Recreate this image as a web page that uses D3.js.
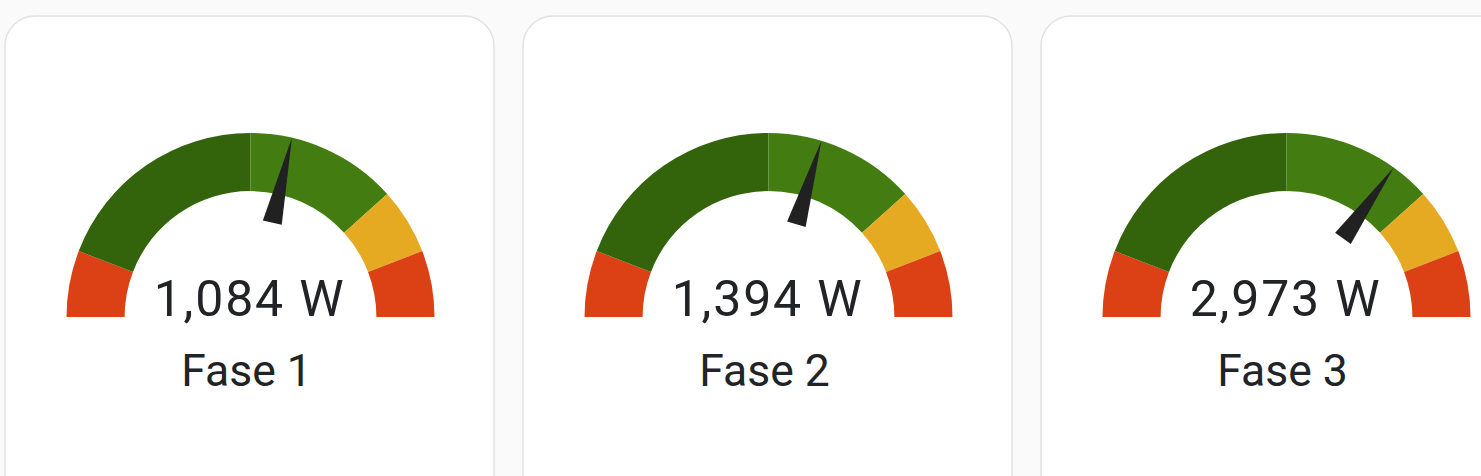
<!DOCTYPE html>
<html>
<head>
<meta charset="utf-8">
<script src="https://cdn.jsdelivr.net/npm/d3@7"></script>
<style>
  html, body { margin: 0; padding: 0; background: #fafafa; }
  svg { display: block; }
</style>
</head>
<body>
<svg id="chart"></svg>
<script>
const WIDTH = 1481;
const HEIGHT = 476;

// data
const phases = ["Fase 1", "Fase 2", "Fase 3"];
const values = [1084, 1394, 2973];
const unit = "W";
const gaugeMin = -7500;
const gaugeMax = 7500;
const levelStops = [-7500, -5750, 0, 4000, 5750, 7500];
const levelColors = ["#db4114", "#33630b", "#437d12", "#e5aa22", "#db4114"];

const cardX0 = 5;
const cardPitch = 518;
const cardWidth = 489;
const cardTop = 16;

const outerR = 184;
const unitR = outerR / 47.5; // gauge drawn in 100x50 units like HA
const innerR = 32.5 * unitR;

const svg = d3.select("#chart").attr("width", WIDTH).attr("height", HEIGHT);

svg.append("rect")
  .attr("width", WIDTH).attr("height", HEIGHT)
  .attr("fill", "#fafafa");

const angle = d3.scaleLinear()
  .domain([gaugeMin, gaugeMax])
  .range([-Math.PI / 2, Math.PI / 2]);

const arc = d3.arc().innerRadius(innerR).outerRadius(outerR);

const levels = levelColors.map((c, i) => ({
  from: levelStops[i], to: levelStops[i + 1], color: c
}));

const cards = svg.selectAll("g.card")
  .data(phases.map((p, i) => ({ name: p, value: values[i] })))
  .enter()
  .append("g")
  .attr("class", "card")
  .attr("transform", (d, i) => `translate(${cardX0 + i * cardPitch},${cardTop})`);

cards.append("rect")
  .attr("width", cardWidth)
  .attr("height", 520)
  .attr("rx", 30)
  .attr("fill", "#ffffff")
  .attr("stroke", "#e2e2e2")
  .attr("stroke-width", 1.5);

const gauge = cards.append("g")
  .attr("transform", `translate(${245.5},${317 - cardTop})`);

gauge.selectAll("path.level")
  .data(levels)
  .enter()
  .append("path")
  .attr("class", "level")
  .attr("d", (d) => arc({ startAngle: angle(d.from), endAngle: angle(d.to) }))
  .attr("fill", (d) => d.color);

// needle, same shape as "M -25 -2.5 L -47.5 0 L -25 2.5 z"
gauge.append("path")
  .attr("class", "needle")
  .attr("d", (d) => {
    const a = angle(d.value);
    const s = Math.sin(a), c = Math.cos(a);
    const pt = (r, w) => [r * s + w * c, -r * c + w * s];
    const p = d3.path();
    const b1 = pt(25 * unitR, -2.5 * unitR);
    const tip = pt(47.5 * unitR, 0);
    const b2 = pt(25 * unitR, 2.5 * unitR);
    p.moveTo(b1[0], b1[1]);
    p.lineTo(tip[0], tip[1]);
    p.lineTo(b2[0], b2[1]);
    p.closePath();
    return p.toString();
  })
  .attr("fill", "#212121");

gauge.append("text")
  .attr("x", -1)
  .attr("y", -1)
  .attr("text-anchor", "middle")
  .attr("font-family", "Roboto, 'Noto Sans', sans-serif")
  .attr("font-size", 50)
  .attr("letter-spacing", 1.8)
  .attr("fill", "#222326")
  .text((d) => `${d3.format(",")(d.value)} ${unit}`);

cards.append("text")
  .attr("x", 241.5)
  .attr("y", 386 - cardTop)
  .attr("text-anchor", "middle")
  .attr("font-family", "Roboto, 'Noto Sans', sans-serif")
  .attr("font-size", 44.5)
  .attr("fill", "#222326")
  .text((d) => d.name);
</script>
</body>
</html>
